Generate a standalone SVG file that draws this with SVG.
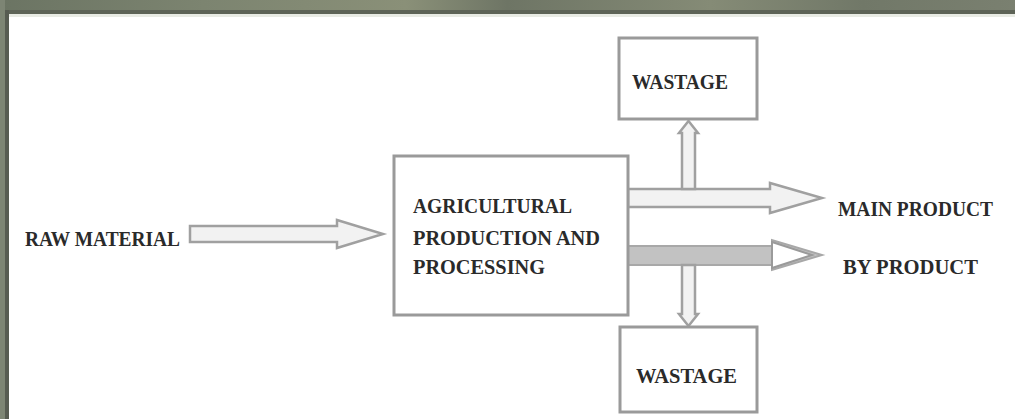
<svg xmlns="http://www.w3.org/2000/svg" width="1015" height="419" viewBox="0 0 1015 419">
<defs>
<linearGradient id="topband" x1="0" y1="0" x2="1" y2="0">
<stop offset="0" stop-color="#6b7463"/>
<stop offset="0.2" stop-color="#7c8470"/>
<stop offset="0.4" stop-color="#8a9078"/>
<stop offset="0.5" stop-color="#6e7565"/>
<stop offset="0.7" stop-color="#858b76"/>
<stop offset="0.85" stop-color="#717868"/>
<stop offset="1" stop-color="#7a8070"/>
</linearGradient>
</defs>
<style>
.box{fill:#ffffff;stroke:#9a9a9a;stroke-width:3}
.lbl{font-family:"Liberation Serif","Times New Roman",serif;font-weight:bold;font-size:21px;fill:#2a2a2a}
.hollow{fill:#f2f2f2;stroke:#a0a0a0;stroke-width:2.5}
.filled{fill:#c2c2c2;stroke:#a8a8a8;stroke-width:2}
.head{fill:#ffffff;stroke:#9a9a9a;stroke-width:2}
</style>
<rect x="0" y="0" width="1015" height="419" fill="#ffffff"/>
<g id="frame">
<rect x="0" y="0" width="1015" height="11" fill="url(#topband)"/>
<rect x="0" y="10" width="1015" height="4" fill="#5d6357"/>
<rect x="0" y="0" width="5" height="419" fill="#7d8574"/>
<rect x="5" y="10" width="4" height="409" fill="#575c52"/>
<rect x="9" y="14" width="1006" height="3" fill="#e8ebe4"/>
</g>
<g id="connectors">
<path class="hollow" d="M190,226 L337,226 L337,220 L383,234 L337,248 L337,242 L190,242 Z"/>
<path class="hollow" d="M628,189 L770,189 L770,183 L822,198 L770,213 L770,207 L628,207 Z"/>
<path class="filled" d="M628,246 L772,246 L772,240 L822,255 L772,270 L772,265 L628,265 Z"/>
<path class="head" d="M772,242 L812,255 L772,268 Z"/>
<path class="hollow" d="M682,189 L682,133 L679,133 L688.5,121 L698,133 L695,133 L695,189 Z"/>
<path class="hollow" d="M682,265 L682,314 L679,314 L688.5,326 L698,314 L695,314 L695,265 Z"/>
</g>
<g id="raw-material">
<text class="lbl" x="25" y="246" textLength="155" lengthAdjust="spacingAndGlyphs">RAW MATERIAL</text>
</g>
<g id="agri-box">
<rect class="box" x="394" y="156" width="234" height="159"/>
<text class="lbl" x="413" y="213" textLength="159" lengthAdjust="spacingAndGlyphs">AGRICULTURAL</text>
<text class="lbl" x="413" y="245" textLength="187" lengthAdjust="spacingAndGlyphs">PRODUCTION AND</text>
<text class="lbl" x="413" y="274" textLength="132" lengthAdjust="spacingAndGlyphs">PROCESSING</text>
</g>
<g id="wastage-top">
<rect class="box" x="619" y="38" width="138" height="81"/>
<text class="lbl" x="632" y="89" textLength="96" lengthAdjust="spacingAndGlyphs">WASTAGE</text>
</g>
<g id="wastage-bottom">
<rect class="box" x="620" y="327" width="137" height="85"/>
<text class="lbl" x="636" y="383" textLength="101" lengthAdjust="spacingAndGlyphs">WASTAGE</text>
</g>
<g id="main-product">
<text class="lbl" x="838" y="216" textLength="155" lengthAdjust="spacingAndGlyphs">MAIN PRODUCT</text>
</g>
<g id="by-product">
<text class="lbl" x="843" y="274" textLength="135" lengthAdjust="spacingAndGlyphs">BY PRODUCT</text>
</g>
</svg>
